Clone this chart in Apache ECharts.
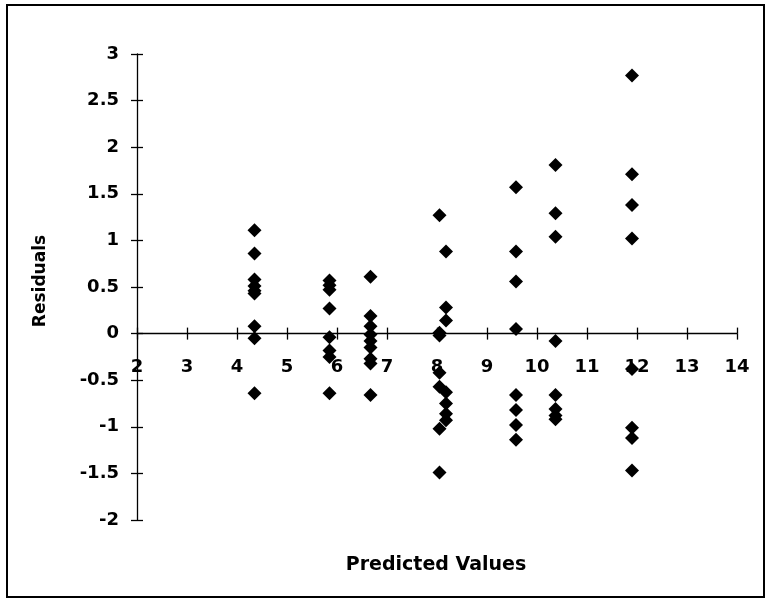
<!DOCTYPE html>
<html>
<head>
<meta charset="utf-8">
<script src="https://cdn.jsdelivr.net/npm/echarts@6/dist/echarts.min.js"></script>
<style>
html,body{margin:0;padding:0;background:#fff;}
#c{width:770px;height:603px;}
</style>
</head>
<body>
<div id="c"></div>
<script>
// Predicted values (x) for each column of residuals
const predicted = [4.35, 5.85, 6.67, 8.05, 8.18, 9.58, 10.37, 11.9];
// Residuals, one list per predicted value
const residuals = [
  [1.11, 0.86, 0.58, 0.51, 0.46, 0.43, 0.08, -0.05, -0.64],
  [0.57, 0.52, 0.47, 0.27, -0.04, -0.18, -0.25, -0.64],
  [0.61, 0.19, 0.08, -0.01, -0.08, -0.15, -0.27, -0.32, -0.66],
  [1.27, 0.01, -0.02, -0.42, -0.57, -1.02, -1.49],
  [0.88, 0.28, 0.14, -0.63, -0.75, -0.86, -0.93],
  [1.57, 0.88, 0.56, 0.05, -0.66, -0.82, -0.98, -1.14],
  [1.81, 1.29, 1.04, -0.08, -0.66, -0.81, -0.88, -0.92],
  [2.77, 1.71, 1.38, 1.02, -0.38, -1.01, -1.12, -1.47]
];
const xTicks = [2, 14, 1];
const yTicks = [-2, 3, 0.5];
const xTitle = 'Predicted Values';
const yTitle = 'Residuals';

const points = [];
predicted.forEach((x, i) => residuals[i].forEach(r => points.push([x, r])));

const font = '"DejaVu Sans", "Liberation Sans", sans-serif';
const G = {left: 137, right: 33, top: 54, bottom: 83};
const plotW = 770 - G.left - G.right;
const plotH = 603 - G.top - G.bottom;
// pixel distance of the value 0 from the top of the plot
const zeroFromTop = plotH * (yTicks[1] - 0) / (yTicks[1] - yTicks[0]);

const chart = echarts.init(document.getElementById('c'), null, {renderer: 'canvas'});
const lineStyle = {color: '#000', width: 1.3};
const labelStyle = {color: '#000', fontFamily: font, fontSize: 18, fontWeight: 'bold'};
chart.setOption({
  backgroundColor: '#fff',
  animation: false,
  grid: G,
  xAxis: [{
    type: 'value', min: xTicks[0], max: xTicks[1], interval: xTicks[2],
    position: 'bottom', offset: -(plotH - zeroFromTop),
    axisLine: {show: true, onZero: false, lineStyle},
    axisTick: {show: true, inside: false, length: 6, lineStyle},
    axisLabel: Object.assign({margin: 25}, labelStyle),
    splitLine: {show: false}
  }, {
    type: 'value', min: xTicks[0], max: xTicks[1], interval: xTicks[2],
    position: 'top', offset: -zeroFromTop,
    axisLine: {show: false, onZero: false},
    axisTick: {show: true, inside: false, length: 6, lineStyle},
    axisLabel: {show: false},
    splitLine: {show: false}
  }],
  yAxis: [{
    type: 'value', min: yTicks[0], max: yTicks[1], interval: yTicks[2],
    position: 'left',
    axisLine: {show: true, onZero: false, lineStyle},
    axisTick: {show: true, inside: false, length: 6, lineStyle},
    axisLabel: Object.assign({margin: 18}, labelStyle),
    splitLine: {show: false}
  }, {
    type: 'value', min: yTicks[0], max: yTicks[1], interval: yTicks[2],
    position: 'right', offset: -plotW,
    axisLine: {show: false, onZero: false},
    axisTick: {show: true, inside: false, length: 6, lineStyle},
    axisLabel: {show: false},
    splitLine: {show: false}
  }],
  series: [{
    type: 'scatter',
    xAxisIndex: 0, yAxisIndex: 0,
    symbol: 'diamond',
    symbolSize: 14,
    itemStyle: {color: '#000', opacity: 1},
    data: points
  }],
  graphic: [
    {type: 'rect', shape: {x: 7, y: 5, width: 757, height: 592}, style: {fill: null, stroke: '#000', lineWidth: 2}, z: -1},
    {type: 'text', x: 436, y: 565, style: {text: xTitle, font: 'bold 19px ' + font, fill: '#000', textAlign: 'center', textVerticalAlign: 'middle'}},
    {type: 'text', x: 41, y: 281, rotation: Math.PI / 2, style: {text: yTitle, font: 'bold 17px ' + font, fill: '#000', textAlign: 'center', textVerticalAlign: 'middle'}}
  ]
});
</script>
</body>
</html>
